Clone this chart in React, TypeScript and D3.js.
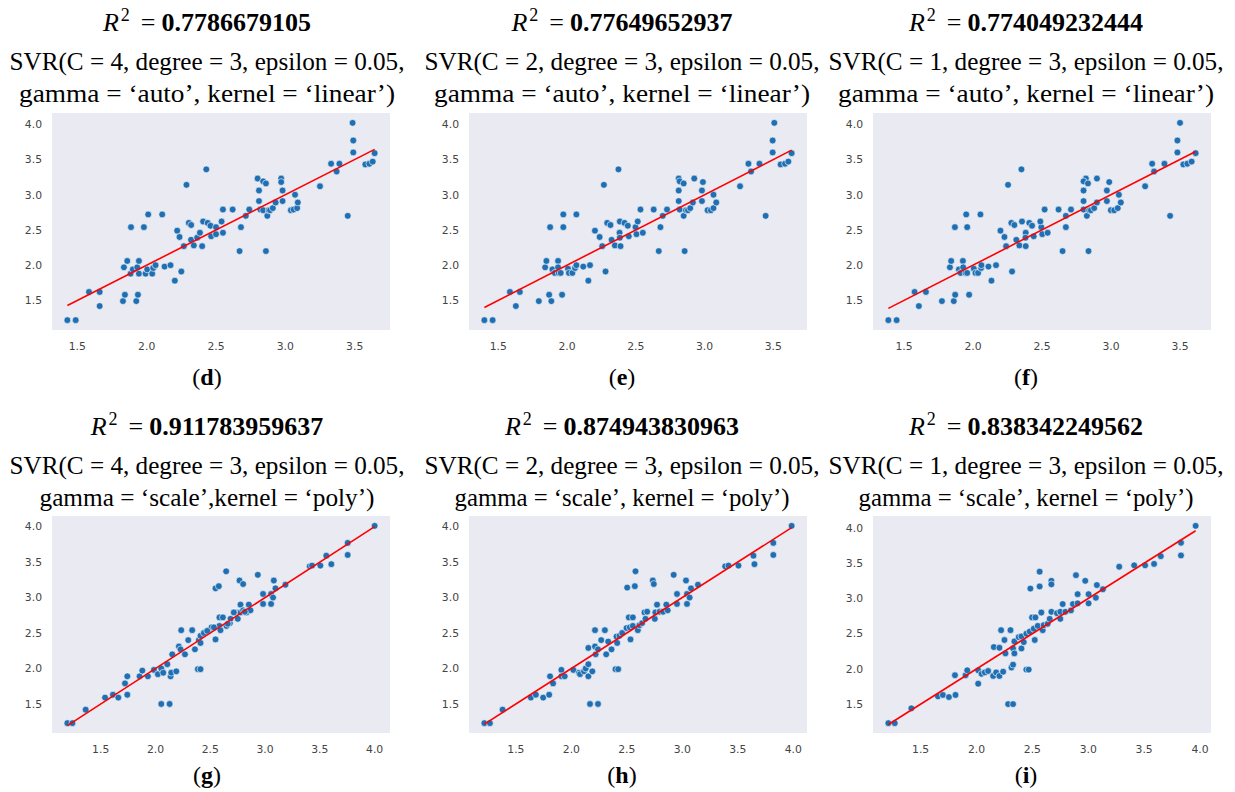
import React from 'react';
import * as d3 from 'd3';

// ---------- Data ----------
const panelLabels = ['d', 'e', 'f', 'g', 'h', 'i'];
const r2Values = ['0.7786679105', '0.77649652937', '0.774049232444', '0.911783959637', '0.874943830963', '0.838342249562'];
const titleLine1 = [
  'SVR(C = 4, degree = 3, epsilon = 0.05,',
  'SVR(C = 2, degree = 3, epsilon = 0.05,',
  'SVR(C = 1, degree = 3, epsilon = 0.05,',
  'SVR(C = 4, degree = 3, epsilon = 0.05,',
  'SVR(C = 2, degree = 3, epsilon = 0.05,',
  'SVR(C = 1, degree = 3, epsilon = 0.05,',
];
const titleLine2 = [
  'gamma = \u2018auto\u2019, kernel = \u2018linear\u2019)',
  'gamma = \u2018auto\u2019, kernel = \u2018linear\u2019)',
  'gamma = \u2018auto\u2019, kernel = \u2018linear\u2019)',
  'gamma = \u2018scale\u2019,kernel = \u2018poly\u2019)',
  'gamma = \u2018scale\u2019, kernel = \u2018poly\u2019)',
  'gamma = \u2018scale\u2019, kernel = \u2018poly\u2019)',
];
const xTicksLinear = [1.5, 2.0, 2.5, 3.0, 3.5];
const xTicksPoly = [1.5, 2.0, 2.5, 3.0, 3.5, 4.0];
const yTicks = [1.5, 2.0, 2.5, 3.0, 3.5, 4.0];

const predD = [1.428,1.488,1.584,1.661,1.661,1.829,1.843,1.836,1.86,1.887,1.884,1.90,1.925,1.937,1.932,1.944,1.944,1.98,1.992,2.004,2.011,2.04,2.047,2.064,2.112,2.129,2.172,2.203,2.22,2.237,2.25,2.268,2.287,2.304,2.321,2.32,2.34,2.364,2.384,2.40,2.407,2.43,2.44,2.46,2.465,2.50,2.50,2.54,2.55,2.55,2.62,2.67,2.68,2.715,2.74,2.80,2.81,2.81,2.82,2.84,2.84,2.86,2.86,2.87,2.88,2.89,2.91,2.93,2.97,2.97,2.98,2.98,3.04,3.06,3.07,3.085,3.09,3.25,3.33,3.37,3.39,3.45,3.485,3.49,3.49,3.577,3.606,3.63,3.644];
const actualD = [1.22,1.22,1.62,1.62,1.42,1.49,1.58,1.97,2.06,2.54,1.88,1.94,1.49,1.58,1.97,2.06,1.88,2.54,1.88,1.94,2.72,1.88,1.96,2.0,2.72,1.98,2.0,1.78,2.49,2.40,1.91,2.27,3.14,2.60,2.57,2.36,2.28,2.39,2.46,2.27,2.62,3.36,2.60,2.56,2.41,2.44,2.54,2.62,2.46,2.79,2.79,2.20,2.54,2.70,2.79,3.23,3.06,2.91,2.79,3.19,2.78,3.16,2.20,2.70,2.78,2.78,2.81,2.89,3.23,3.18,3.06,2.91,2.78,2.79,3.0,2.81,2.89,3.12,3.44,3.33,3.44,2.70,4.02,3.77,3.60,3.43,3.44,3.47,3.59];

const predE = [1.399,1.459,1.585,1.657,1.628,1.795,1.870,1.886,1.841,1.850,1.877,1.894,1.911,1.935,1.935,1.940,1.954,1.964,1.973,1.973,2.007,2.014,2.039,2.058,2.068,2.068,2.118,2.155,2.167,2.203,2.237,2.256,2.268,2.280,2.292,2.316,2.324,2.348,2.374,2.382,2.384,2.389,2.384,2.418,2.442,2.449,2.498,2.505,2.514,2.534,2.551,2.630,2.667,2.679,2.696,2.727,2.812,2.812,2.812,2.819,2.819,2.848,2.855,2.848,2.865,2.879,2.896,2.915,2.925,2.988,2.981,2.981,3.022,3.046,3.065,3.065,3.085,3.258,3.319,3.338,3.399,3.444,3.507,3.495,3.495,3.553,3.585,3.609,3.633];
const actualE = [1.22,1.22,1.62,1.62,1.42,1.49,1.58,1.49,1.97,2.06,2.54,1.94,1.89,2.06,1.97,1.89,1.89,1.58,2.54,2.72,1.95,1.89,1.89,1.96,2.0,2.72,1.98,1.78,2.0,2.49,2.40,2.27,3.14,1.91,2.60,2.57,2.36,2.28,3.36,2.46,2.62,2.27,2.39,2.60,2.56,2.41,2.54,2.44,2.62,2.79,2.46,2.79,2.20,2.54,2.70,2.79,3.23,3.06,2.91,3.19,2.79,3.16,2.20,2.70,2.78,2.78,2.81,2.89,3.23,3.18,3.06,2.91,2.78,2.78,2.81,3.0,2.89,3.12,3.44,3.33,3.44,2.70,4.02,3.77,3.60,3.43,3.44,3.47,3.59];

const predF = [1.387,1.447,1.577,1.659,1.608,1.775,1.861,1.871,1.833,1.842,1.869,1.898,1.910,1.927,1.929,1.946,1.958,1.972,1.958,1.951,2.006,2.018,2.037,2.059,2.061,2.054,2.112,2.134,2.167,2.199,2.228,2.240,2.254,2.283,2.278,2.3,2.314,2.336,2.351,2.382,2.355,2.382,2.38,2.408,2.428,2.44,2.495,2.502,2.488,2.519,2.541,2.62,2.649,2.673,2.673,2.71,2.818,2.801,2.801,2.801,2.801,2.833,2.837,2.825,2.842,2.854,2.878,2.898,2.898,2.987,2.97,2.97,2.999,3.023,3.049,3.057,3.071,3.247,3.298,3.312,3.387,3.428,3.5,3.481,3.481,3.524,3.553,3.584,3.613];
const actualF = [1.22,1.22,1.62,1.62,1.42,1.49,1.49,1.58,1.97,2.06,2.54,1.94,1.89,2.06,1.97,1.89,1.89,1.58,2.54,2.72,1.95,1.89,1.89,1.96,2.0,2.72,1.98,1.78,2.0,2.49,2.40,2.27,3.14,1.91,2.60,2.57,2.36,2.28,3.36,2.46,2.62,2.27,2.39,2.60,2.56,2.41,2.54,2.44,2.62,2.79,2.46,2.79,2.20,2.54,2.70,2.79,3.23,3.06,2.91,3.19,2.79,3.16,2.20,2.70,2.78,2.78,2.81,2.89,3.23,3.18,3.06,2.91,2.78,2.78,2.81,3.0,2.89,3.12,3.44,3.33,3.44,2.70,4.02,3.77,3.60,3.43,3.44,3.47,3.59];

const predG = [1.196,1.242,1.363,1.540,1.612,1.661,1.743,1.722,1.743,1.855,1.88,1.931,1.986,2.022,2.053,2.071,2.053,2.108,2.129,2.138,2.144,2.153,2.19,2.214,2.229,2.235,2.269,2.299,2.335,2.36,2.387,2.411,2.396,2.411,2.411,2.442,2.487,2.512,2.548,2.548,2.548,2.578,2.584,2.593,2.584,2.615,2.645,2.648,2.679,2.685,2.73,2.751,2.767,2.776,2.776,2.8,2.8,2.831,2.852,2.867,2.934,2.982,2.982,3.055,3.055,3.073,3.08,3.095,3.186,3.408,3.429,3.505,3.559,3.605,3.754,3.754,4.0,2.472,2.533,2.66,2.715,2.815];
const actualG = [1.23,1.23,1.42,1.59,1.63,1.59,1.63,1.79,1.89,1.89,1.97,1.89,1.98,1.92,2.0,1.94,1.5,2.06,1.5,1.89,1.94,2.2,1.96,2.31,2.27,2.54,2.2,2.40,2.54,2.27,1.99,1.99,2.40,2.36,2.46,2.5,2.54,2.58,2.58,2.41,3.13,3.16,2.6,2.54,2.72,2.72,3.37,2.6,2.64,2.70,2.79,2.70,3.24,2.90,2.79,3.19,2.82,2.79,2.90,2.82,3.32,3.05,2.91,3.05,2.91,3.0,3.24,3.13,3.18,3.44,3.45,3.45,3.59,3.47,3.77,3.60,4.01,2.53,2.58,2.63,2.79,2.80];

const predH = [1.216,1.266,1.38,1.635,1.68,1.746,1.80,1.808,1.835,1.91,1.91,1.94,2.018,2.069,2.078,2.114,2.129,2.153,2.153,2.153,2.168,2.189,2.213,2.213,2.219,2.24,2.24,2.269,2.302,2.314,2.332,2.362,2.398,2.422,2.407,2.413,2.434,2.458,2.497,2.503,2.518,2.527,2.533,2.554,2.554,2.572,2.578,2.599,2.614,2.638,2.659,2.683,2.668,2.734,2.743,2.752,2.757,2.772,2.796,2.826,2.856,2.868,2.922,2.952,2.952,3.033,3.042,3.042,3.066,3.078,3.141,3.386,3.416,3.506,3.641,3.65,3.82,3.82,3.985];
const actualH = [1.23,1.23,1.42,1.59,1.63,1.59,1.63,1.89,1.79,1.98,1.89,1.89,1.98,1.94,1.92,1.96,2.0,2.06,1.89,2.29,1.5,1.96,2.54,2.31,2.2,2.27,1.5,2.40,2.54,2.2,2.38,2.27,1.99,1.99,2.45,2.36,2.46,2.5,2.57,3.14,2.72,2.58,2.41,2.72,2.6,3.16,3.37,2.54,2.61,2.64,2.79,2.80,2.70,3.24,3.19,2.70,2.79,2.90,2.80,2.80,2.90,2.82,3.32,3.05,2.91,3.24,3.05,2.91,3.0,3.13,3.18,3.44,3.45,3.45,3.59,3.47,3.77,3.60,4.01];

const predI = [1.211,1.268,1.417,1.655,1.699,1.753,1.812,1.807,1.902,1.917,2.015,2.015,2.045,2.074,2.104,2.149,2.155,2.176,2.205,2.205,2.22,2.238,2.25,2.259,2.283,2.304,2.313,2.327,2.327,2.327,2.339,2.339,2.378,2.402,2.402,2.423,2.446,2.467,2.446,2.476,2.482,2.497,2.512,2.527,2.521,2.548,2.565,2.565,2.58,2.592,2.601,2.637,2.655,2.67,2.67,2.67,2.72,2.75,2.75,2.771,2.795,2.845,2.863,2.89,2.905,2.905,2.973,3.003,3.003,3.068,3.077,3.131,3.277,3.411,3.509,3.589,3.649,3.830,3.830,3.961];
const actualI = [1.23,1.23,1.44,1.61,1.63,1.60,1.63,1.91,1.91,1.98,1.79,1.98,1.93,1.95,1.97,1.90,2.31,1.95,2.30,1.90,2.55,1.96,2.41,2.22,1.50,2.55,2.02,2.29,2.06,1.50,2.39,2.22,2.45,2.29,2.46,2.38,1.99,1.99,2.50,2.53,3.14,2.73,2.57,2.73,2.41,2.61,3.38,3.17,2.80,2.55,2.62,2.64,2.71,3.25,3.20,2.81,2.79,2.71,2.81,2.92,2.81,2.83,2.92,3.33,3.06,2.93,3.25,3.06,2.93,3.01,3.19,3.13,3.45,3.47,3.47,3.49,3.60,3.79,3.61,4.03];

const predictions = [predD, predE, predF, predG, predH, predI];
const actuals = [actualD, actualE, actualF, actualG, actualH, actualI];

// ---------- Layout ----------
const W = 1235;
const H = 792;
const colPlotX = [52, 469, 873];
const rowPlotY = [113, 516];
const plotW = 338;
const plotH = 217;
const titleCX = [207, 622, 1026];
const rowTextY = [
  { r2: 31, l1: 70, l2: 102, lab: 385 },
  { r2: 435, l1: 474, l2: 506, lab: 783 },
];
const line1Width = 395;
const line2Width = [376, 335];
const serif = "'Liberation Serif', 'Times New Roman', serif";
const sans = "'DejaVu Sans', sans-serif";

function Panel({ idx }: { idx: number }) {
  const col = idx % 3;
  const row = Math.floor(idx / 3);
  const px = colPlotX[col];
  const py = rowPlotY[row];
  const pred = predictions[idx];
  const act = actuals[idx];
  const [xmin, xmax] = d3.extent(pred) as [number, number];
  const [ymin, ymax] = d3.extent(act) as [number, number];
  const xpad = (xmax - xmin) * 0.05;
  const ypad = (ymax - ymin) * 0.05;
  const x = d3.scaleLinear().domain([xmin - xpad, xmax + xpad]).range([px, px + plotW]);
  const y = d3.scaleLinear().domain([ymin - ypad, ymax + ypad]).range([py + plotH, py]);
  const xt = (row === 0 ? xTicksLinear : xTicksPoly).filter((t) => t >= x.domain()[0] && t <= x.domain()[1]);
  const yt = yTicks.filter((t) => t >= y.domain()[0] && t <= y.domain()[1]);
  const linePath = d3.line<number>().x((v) => x(v)).y((v) => y(v))([xmin, xmax]) || '';
  const ty = rowTextY[row];
  const cx = titleCX[col];
  const pts = pred.map((p, i) => [p, act[i]] as [number, number]);

  return (
    <g>
      <text x={cx} y={ty.r2} textAnchor="middle" fontFamily={serif} fontSize={26} fill="#000">
        <tspan fontStyle="italic">R</tspan>
        <tspan fontSize={18} dy={-10} dx={2}>2</tspan>
        <tspan dy={10} dx={11}>=</tspan>
        <tspan dx={6} fontWeight="bold">{r2Values[idx]}</tspan>
      </text>
      <text x={cx} y={ty.l1} textAnchor="middle" fontFamily={serif} fontSize={26} fill="#000"
        textLength={line1Width} lengthAdjust="spacingAndGlyphs">
        {titleLine1[idx]}
      </text>
      <text x={cx} y={ty.l2} textAnchor="middle" fontFamily={serif} fontSize={26} fill="#000"
        textLength={line2Width[row]} lengthAdjust="spacingAndGlyphs">
        {titleLine2[idx]}
      </text>
      <rect x={px} y={py} width={plotW} height={plotH} fill="#eaeaf2" />
      {pts.map((d, i) => (
        <circle key={i} cx={x(d[0])} cy={y(d[1])} r={3.4} fill="#1f6fb2" stroke="#ffffff" strokeWidth={0.6} />
      ))}
      <path d={linePath} stroke="#ff0000" strokeWidth={1.6} fill="none" />
      {yt.map((t) => (
        <text key={'y' + t} x={px - 10} y={y(t)} dy="0.35em" textAnchor="end" fontFamily={sans} fontSize={10.8} fill="#444">
          {t.toFixed(1)}
        </text>
      ))}
      {xt.map((t) => (
        <text key={'x' + t} x={x(t)} y={py + plotH + 20} textAnchor="middle" fontFamily={sans} fontSize={10.8} fill="#444">
          {t.toFixed(1)}
        </text>
      ))}
      <text x={cx} y={ty.lab} textAnchor="middle" fontFamily={serif} fontSize={24} fill="#000">
        (<tspan fontWeight="bold">{panelLabels[idx]}</tspan>)
      </text>
    </g>
  );
}

export default function App() {
  return (
    <svg width={W} height={H} style={{ position: 'absolute', left: 0, top: 0, background: '#fff' }}>
      <rect x={0} y={0} width={W} height={H} fill="#fff" />
      {panelLabels.map((_, i) => (
        <Panel key={i} idx={i} />
      ))}
    </svg>
  );
}
